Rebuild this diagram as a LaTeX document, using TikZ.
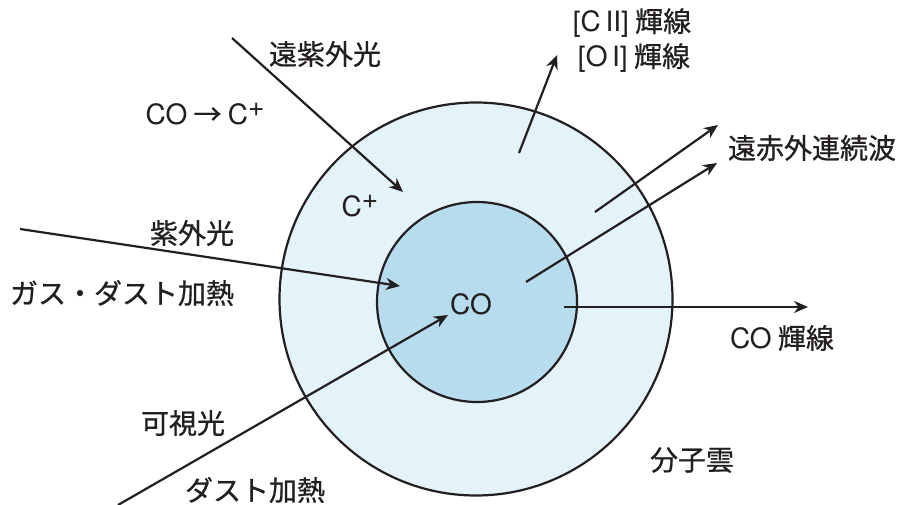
\documentclass[tikz,border=0pt]{standalone}
\usepackage{fontspec}
\setmainfont{Noto Sans CJK JP}[BoldFont={Noto Sans CJK JP}, BoldFeatures={FakeBold=0.7}]
\newfontfamily\lat{TeX Gyre Heros}[BoldFont={TeX Gyre Heros}]
\usetikzlibrary{arrows.meta}
\definecolor{outerblue}{HTML}{E4F2FA}
\definecolor{innerblue}{HTML}{B7DCEE}
\definecolor{ink}{HTML}{231F20}
\newcommand{\plussup}{\raisebox{0.3em}{+}}
\tikzset{
  ring/.style={circle, draw=ink, line width=2.2pt, inner sep=0pt},
  ray/.style={draw=ink, line width=2.2pt, -{Stealth[length=14pt, width=12pt, inset=4.5pt]}},
  lbl/.style={font=\fontsize{28}{31}\selectfont\bfseries, text=ink, inner sep=0pt},
}
\begin{document}
\begin{tikzpicture}[x=1pt, y=-1pt]
\path[use as bounding box, fill=white] (0,0) rectangle (902,505);
\node[ring, fill=outerblue, minimum size=393pt] (cloud) at (476,299) {};
\node[ring, fill=innerblue, minimum size=200pt] (core) at (477,302) {};

% free ends
\coordinate (fuvS) at (232,38);   \coordinate (fuvE) at (403,192);
\coordinate (uvS) at (20,229);    \coordinate (uvE) at (400,286);
\coordinate (visS) at (118,505);  \coordinate (visE) at (448,315);
\coordinate (ciiS) at (519,153);  \coordinate (ciiE) at (557,55);
\coordinate (fir1S) at (595,212); \coordinate (fir1E) at (718,125);
\coordinate (fir2S) at (526,282); \coordinate (fir2E) at (717,163);
\coordinate (colS) at (564,307);  \coordinate (colE) at (808,307);

\draw[ray] (fuvS) -- (fuvE);
\draw[ray] (uvS) -- (uvE);
\draw[ray] (visS) -- (visE);
\draw[ray] (ciiS) -- (ciiE);
\draw[ray] (fir1S) -- (fir1E);
\draw[ray] (fir2S) -- (fir2E);
\draw[ray] (colS) -- (colE);

\node[lbl] (tfuv) at (325,54) {遠紫外光};
\node[lbl] (tcoc) at (205,114) {{\lat CO} → {\lat C\plussup}};
\node[lbl] (tcp) at (360,206) {\lat C\plussup};
\node[lbl] (tuv) at (192,233) {紫外光};
\node[lbl] (tgas) at (122,293) {ガス・ダスト加熱};
\node[lbl] (tco) at (471,304) {\lat CO};
\node[lbl] (tvis) at (183,423) {可視光};
\node[lbl] (tdust) at (255,490) {ダスト加熱};
\node[lbl] (tcii) at (632,23) {{\lat [C\,II]} 輝線};
\node[lbl] (toi) at (634,58) {{\lat [O\,I]} 輝線};
\node[lbl] (tfir) at (812,148) {遠赤外連続波};
\node[lbl] (tcol) at (782,338) {{\lat CO} 輝線};
\node[lbl] (tmc) at (692,460) {分子雲};
\end{tikzpicture}
\end{document}
